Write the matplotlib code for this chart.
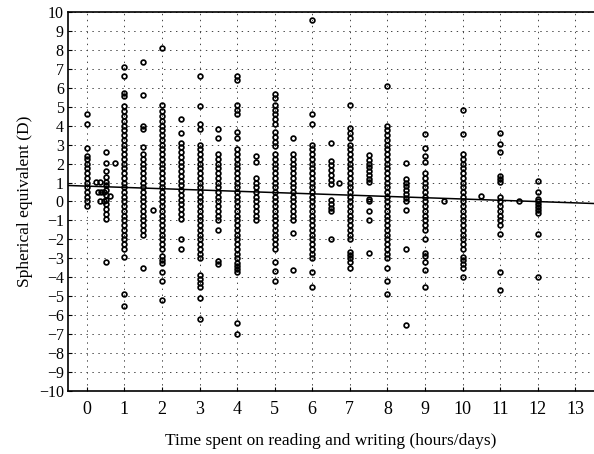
import matplotlib.pyplot as plt
import numpy as np

plt.rcParams["font.family"] = ["Liberation Serif", "DejaVu Serif"]
plt.rcParams["lines.scale_dashes"] = False

# spherical equivalent (D) read per reading/writing time column
col_x = [0, 0.5, 1, 1.5, 2, 2.5, 3, 3.5, 4, 4.5, 5, 5.5, 6, 6.5, 7, 7.5, 8, 8.5, 9, 10, 11, 12]
col_y = [
    [4.6, 4.1, 2.8, 2.4, 2.25, 2.0, 1.75, 1.5, 1.25, 1.0, 0.75, 0.5, 0.25, 0.0, -0.25],
    [2.6, 2.05, 1.6, 1.3, 1.05, 0.85, 0.6, 0.35, 0.1, -0.15, -0.4, -0.65, -0.95, -3.2],
    [7.1, 6.6, 5.7, 5.55, 5.05, 4.75, 4.5, 4.25, 4.0, 3.75, 3.5, 3.25, 3.0, 2.75, 2.5, 2.25,
     2.0, 1.75, 1.5, 1.25, 1.0, 0.75, 0.5, 0.25, 0.0, -0.25, -0.5, -0.75, -1.0, -1.25, -1.5,
     -1.75, -2.0, -2.25, -2.5, -2.95, -4.9, -5.5],
    [7.35, 5.6, 4.0, 3.8, 2.85, 2.5, 2.25, 2.0, 1.75, 1.5, 1.25, 1.0, 0.75, 0.5, 0.25, 0.0,
     -0.25, -0.5, -0.75, -1.0, -1.25, -1.5, -1.75, -3.5],
    [8.1, 5.1, 4.75, 4.5, 4.25, 4.0, 3.75, 3.5, 3.25, 3.0, 2.75, 2.5, 2.25, 2.0, 1.75, 1.5,
     1.25, 1.0, 0.75, 0.5, 0.25, 0.0, -0.25, -0.5, -0.75, -1.0, -1.25, -1.5, -1.75, -2.0,
     -2.25, -2.5, -2.9, -3.1, -3.25, -3.7, -4.2, -5.2],
    [4.35, 3.6, 3.1, 2.85, 2.6, 2.35, 2.1, 1.85, 1.6, 1.35, 1.1, 0.85, 0.6, 0.35, 0.1, -0.15,
     -0.4, -0.65, -0.9, -2.0, -2.5],
    [6.6, 5.05, 4.1, 3.8, 3.0, 2.75, 2.5, 2.25, 2.0, 1.75, 1.5, 1.25, 1.0, 0.75, 0.5, 0.25,
     0.0, -0.25, -0.5, -0.75, -1.0, -1.25, -1.5, -1.75, -2.0, -2.25, -2.5, -2.75, -3.0,
     -3.9, -4.1, -4.3, -4.5, -5.1, -6.2],
    [3.85, 3.35, 2.5, 2.25, 2.0, 1.75, 1.5, 1.25, 1.0, 0.75, 0.5, 0.25, 0.0, -0.25, -0.5,
     -0.75, -1.0, -1.5, -3.15, -3.3],
    [6.6, 6.4, 5.1, 4.85, 4.6, 3.65, 3.35, 2.75, 2.5, 2.25, 2.0, 1.75, 1.5, 1.25, 1.0, 0.75,
     0.5, 0.25, 0.0, -0.25, -0.5, -0.75, -1.0, -1.25, -1.5, -1.75, -2.0, -2.25, -2.5, -2.75,
     -3.0, -3.25, -3.4, -3.55, -3.7, -6.4, -7.0],
    [2.4, 2.1, 1.25, 1.0, 0.75, 0.5, 0.25, 0.0, -0.25, -0.5, -0.75, -1.0],
    [5.65, 5.45, 5.1, 4.85, 4.6, 4.35, 4.1, 3.65, 3.4, 3.15, 2.95, 2.5, 2.25, 2.0, 1.75, 1.5,
     1.25, 1.0, 0.75, 0.5, 0.25, 0.0, -0.25, -0.5, -0.75, -1.0, -1.25, -1.5, -1.75, -2.0,
     -2.25, -2.5, -3.2, -3.65, -4.2],
    [3.35, 2.5, 2.25, 2.0, 1.75, 1.5, 1.25, 1.0, 0.75, 0.5, 0.25, 0.0, -0.25, -0.5, -0.75,
     -1.0, -1.65, -3.6],
    [9.6, 4.6, 4.1, 3.0, 2.75, 2.5, 2.25, 2.0, 1.75, 1.5, 1.25, 1.0, 0.75, 0.5, 0.25, 0.0,
     -0.25, -0.5, -0.75, -1.0, -1.25, -1.5, -1.75, -2.0, -2.25, -2.5, -2.75, -3.0, -3.7, -4.5],
    [3.1, 2.15, 1.9, 1.65, 1.4, 1.15, 0.9, 0.1, -0.15, -0.35, -0.5, -2.0],
    [5.1, 3.9, 3.6, 3.35, 3.0, 2.75, 2.5, 2.25, 2.0, 1.75, 1.5, 1.25, 1.0, 0.75, 0.5, 0.25,
     0.0, -0.25, -0.5, -0.75, -1.0, -1.25, -1.5, -1.75, -2.0, -2.65, -2.85, -3.0, -3.2, -3.5],
    [2.45, 2.2, 2.0, 1.8, 1.6, 1.4, 1.2, 1.05, 0.15, 0.0, -0.5, -1.0, -2.7],
    [6.1, 4.0, 3.75, 3.5, 3.25, 3.0, 2.75, 2.5, 2.25, 2.0, 1.75, 1.5, 1.25, 1.0, 0.75, 0.5,
     0.25, 0.0, -0.25, -0.5, -0.75, -1.0, -1.25, -1.5, -1.75, -2.0, -2.25, -2.5, -2.75, -3.0,
     -3.5, -4.2, -4.9],
    [2.05, 1.2, 1.0, 0.8, 0.6, 0.4, 0.2, 0.05, -0.45, -2.5, -6.5],
    [3.55, 2.8, 2.4, 2.1, 1.5, 1.25, 1.0, 0.75, 0.5, 0.25, 0.0, -0.25, -0.5, -0.75, -1.0,
     -1.25, -1.5, -2.0, -2.7, -2.9, -3.2, -3.6, -4.5],
    [4.85, 3.55, 2.5, 2.25, 2.0, 1.75, 1.5, 1.25, 1.0, 0.75, 0.5, 0.25, 0.0, -0.25, -0.5,
     -0.75, -1.0, -1.25, -1.5, -1.75, -2.0, -2.25, -2.5, -2.95, -3.1, -3.3, -3.5, -4.0],
    [3.6, 3.05, 2.6, 1.35, 1.2, 1.05, 0.25, 0.0, -0.25, -0.5, -0.75, -1.0, -1.25, -1.7,
     -3.7, -4.7],
    [1.1, 0.5, 0.15, 0.0, -0.15, -0.3, -0.45, -0.6, -1.7, -4.0],
]

# stray points between the columns
extra_x = [0.25, 0.35, 0.3, 0.38, 0.45, 0.35, 0.45, 0.75, 0.63, 1.75, 6.7, 9.5, 10.5, 11.5]
extra_y = [1.05, 1.05, 0.5, 0.5, 0.5, 0.0, 0.0, 2.05, 0.3, -0.47, 0.95, 0.0, 0.3, 0.05]

# fitted regression line
fit_intercept = 0.81
fit_slope = -0.068

xs = np.concatenate([[cx] * len(cy) for cx, cy in zip(col_x, col_y)] + [extra_x])
ys = np.concatenate([np.array(cy) for cy in col_y] + [extra_y])

fig = plt.figure(figsize=(5.94, 4.54), dpi=100)
ax = fig.add_axes([0.1145, 0.139, 0.8855, 0.8345])

ax.set_xlim(-0.5, 13.5)
ax.set_ylim(-10, 10)
ax.set_xticks(range(0, 14))
ax.set_yticks(range(-10, 11))
ax.set_yticklabels([str(v).replace("-", "\u2212") for v in range(-10, 11)])
ax.grid(True, color="#444444", linestyle=(0, (1, 3.3)), linewidth=0.7)
ax.set_axisbelow(True)

ax.plot(xs, ys, linestyle="none", marker="o", markersize=3.4,
        markerfacecolor="none", markeredgecolor="black", markeredgewidth=1.25)

lx = np.array(ax.get_xlim())
ax.plot(lx, fit_intercept + fit_slope * lx, color="black", linewidth=1.1)

ax.spines["right"].set_visible(False)
for s in ["left", "bottom", "top"]:
    ax.spines[s].set_linewidth(1.2)
ax.tick_params(direction="in", length=3, width=0.8, top=False, right=False)
ax.tick_params(axis="x", labelsize=13, pad=7)
ax.tick_params(axis="y", labelsize=11.5, pad=3)

ax.set_xlabel("Time spent on reading and writing (hours/days)", fontsize=12.5, labelpad=11)
ax.set_ylabel("Spherical equivalent (D)", fontsize=12.5, labelpad=4)

fig.savefig("out.png", dpi=100)
